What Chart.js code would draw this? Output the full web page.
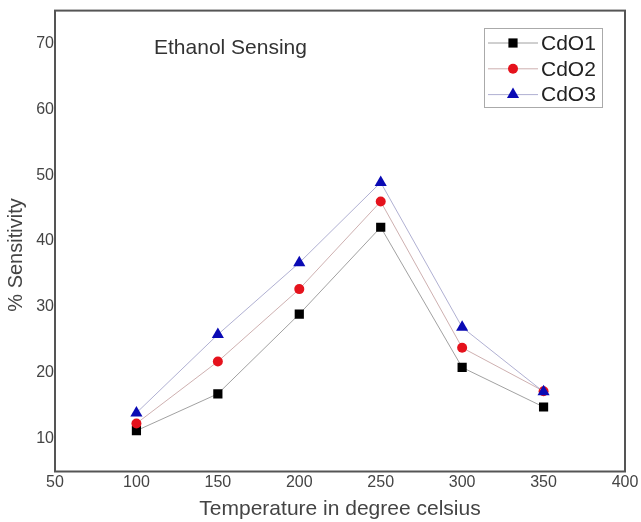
<!DOCTYPE html>
<html>
<head>
<meta charset="utf-8">
<script src="https://cdn.jsdelivr.net/npm/chart.js@4/dist/chart.umd.min.js"></script>
<style>
  html, body { margin: 0; padding: 0; background: #fff; }
  #wrap { width: 641px; height: 522px; }
</style>
</head>
<body>
<div id="wrap"><canvas id="grafico" width="641" height="522"></canvas></div>
<script>
// datos
const temperaturas = [100, 150, 200, 250, 300, 350];
const cdo1 = [11.2, 16.8, 28.9, 42.1, 20.8, 14.8];
const cdo2 = [12.3, 21.7, 32.7, 46.0, 23.8, 17.2];
const cdo3 = [13.9, 25.8, 36.7, 48.9, 26.9, 17.1];
const yTicks = [10, 20, 30, 40, 50, 60, 70];
const nombres = ["CdO1", "CdO2", "CdO3"];

const FUENTE = "'Liberation Sans', Arial, sans-serif";

const puntos = (serie) => temperaturas.map((t, i) => ({ x: t, y: serie[i] }));

// marco, textos y leyenda dentro del area
const extras = {
    id: "extras",
    beforeDatasetsDraw(chart) {
        const { ctx, chartArea: a } = chart;
        ctx.save();
        ctx.strokeStyle = "#555";
        ctx.lineWidth = 2;
        ctx.strokeRect(a.left, a.top, a.right - a.left, a.bottom - a.top);
        ctx.restore();
    },
    afterDatasetsDraw(chart) {
        const { ctx } = chart;
        ctx.save();
        ctx.fillStyle = "#333";
        ctx.font = "21px " + FUENTE;
        ctx.textBaseline = "middle";
        ctx.textAlign = "left";
        ctx.fillText("Ethanol Sensing", 154, 48);

        // titulo del eje y
        ctx.save();
        ctx.translate(16.5, 255);
        ctx.rotate(-Math.PI / 2);
        ctx.textAlign = "center";
        ctx.fillStyle = "#444";
        ctx.font = "20px " + FUENTE;
        ctx.fillText("% Sensitivity", 0, 0);
        ctx.restore();

        // leyenda
        ctx.strokeStyle = "#aaa";
        ctx.lineWidth = 1;
        ctx.strokeRect(484.5, 28.5, 118, 79);
        chart.data.datasets.forEach((ds, i) => {
            const y = 43 + i * 25.8;
            ctx.strokeStyle = ds.borderColor;
            ctx.lineWidth = 1;
            ctx.beginPath();
            ctx.moveTo(488, y);
            ctx.lineTo(538, y);
            ctx.stroke();
            ctx.fillStyle = ds.pointBackgroundColor;
            ctx.strokeStyle = ds.pointBackgroundColor;
            Chart.helpers.drawPoint(ctx, {
                pointStyle: ds.pointStyle,
                radius: ds.pointRadius,
                rotation: 0,
                borderWidth: 0
            }, 513, y);
            ctx.fillStyle = "#222";
            ctx.font = "21px " + FUENTE;
            ctx.fillText(ds.label, 541, y + 1);
        });
        ctx.restore();
    }
};

new Chart(document.getElementById("grafico"), {
    type: "line",
    data: {
        datasets: [{
            label: nombres[0],
            data: puntos(cdo1),
            order: 3,
            borderColor: "rgba(130,130,130,0.75)",
            borderWidth: 1,
            pointStyle: "rect",
            pointRadius: 6.5,
            pointBackgroundColor: "#000",
            pointBorderWidth: 0,
        }, {
            label: nombres[1],
            data: puntos(cdo2),
            order: 2,
            borderColor: "rgba(190,150,150,0.75)",
            borderWidth: 1,
            pointStyle: "circle",
            pointRadius: 5,
            pointBackgroundColor: "#e5121c",
            pointBorderWidth: 0,
        }, {
            label: nombres[2],
            data: puntos(cdo3),
            order: 1,
            borderColor: "rgba(150,150,195,0.75)",
            borderWidth: 1,
            pointStyle: "triangle",
            pointRadius: 7,
            pointBackgroundColor: "#0a0ab4",
            pointBorderWidth: 0,
        }],
    },
    options: {
        responsive: false,
        animation: false,
        layout: { padding: { left: 0, right: 16, top: 9, bottom: 0 } },
        plugins: {
            legend: { display: false },
            tooltip: { enabled: false },
        },
        scales: {
            x: {
                type: "linear",
                min: 50,
                max: 400,
                grid: { display: false, drawTicks: false },
                border: { display: false },
                ticks: {
                    stepSize: 50,
                    padding: 1,
                    color: "#444",
                    font: { family: FUENTE, size: 16 },
                    maxRotation: 0,
                },
                title: {
                    display: true,
                    text: "Temperature in degree celsius",
                    color: "#444",
                    font: { family: FUENTE, size: 21 },
                    padding: { top: 0, bottom: 0 },
                },
                afterFit: (scale) => { scale.height = 50.5; },
            },
            y: {
                min: 5,
                max: 75,
                grid: { display: false, drawTicks: false },
                border: { display: false },
                ticks: {
                    padding: 1,
                    color: "#444",
                    font: { family: FUENTE, size: 16 },
                },
                afterBuildTicks: (scale) => { scale.ticks = yTicks.map((v) => ({ value: v })); },
                afterFit: (scale) => { scale.width = 55; },
            },
        },
    },
    plugins: [extras],
});
</script>
</body>
</html>
